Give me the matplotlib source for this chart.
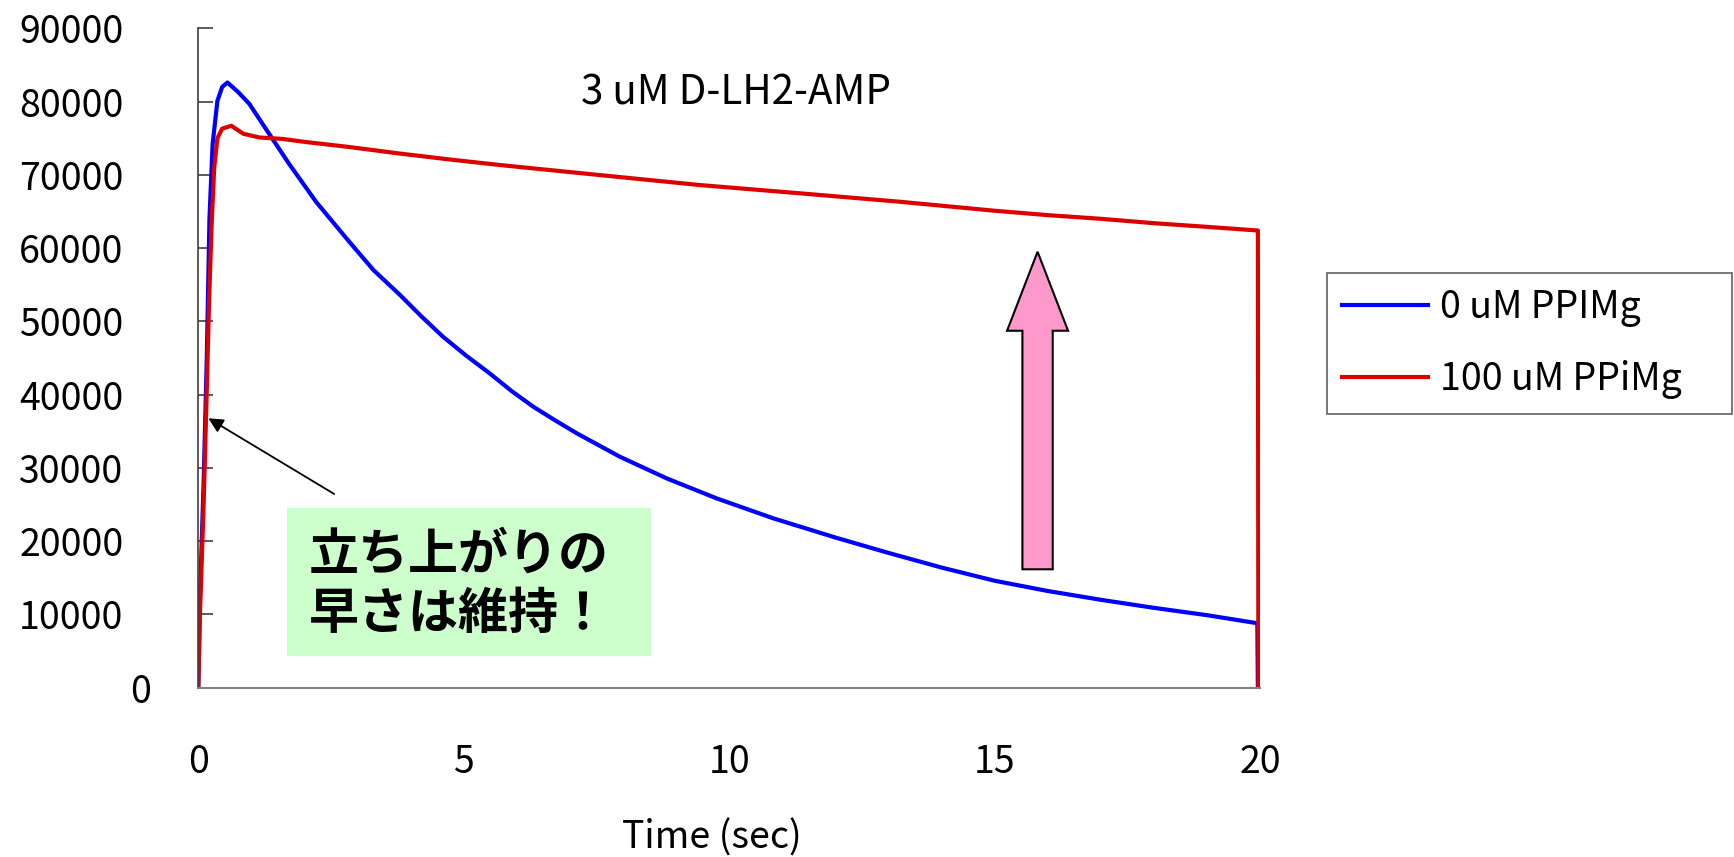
import matplotlib
matplotlib.use("Agg")
import matplotlib.pyplot as plt
import matplotlib.transforms as mtransforms
from matplotlib.patches import FancyArrow, Rectangle

plt.rcParams['font.family'] = ['Noto Sans CJK JP', 'DejaVu Sans']

# luminescence traces
t_blue = [0, 0.03, 0.1, 0.16, 0.21, 0.27, 0.36, 0.45, 0.55, 0.75, 0.96, 1.27, 1.71, 2.22,
          2.84, 3.3, 3.8, 4.2, 4.61, 5.05, 5.49, 5.9, 6.31, 6.72, 7.13, 7.94, 8.82, 9.76,
          10.83, 12, 13, 14, 15, 16, 17, 18, 19, 19.95, 19.96]
v_blue = [0, 12000, 28000, 45000, 64000, 74200, 80100, 82000, 82600, 81300, 79700, 76300,
          71500, 66300, 60900, 57000, 53600, 50700, 47900, 45300, 42900, 40500, 38350,
          36500, 34720, 31530, 28580, 25850, 23120, 20500, 18400, 16400, 14600, 13200,
          12000, 10900, 9900, 8800, 0]

t_red = [0, 0.03, 0.1, 0.15, 0.2, 0.25, 0.3, 0.36, 0.45, 0.62, 0.85, 1.15, 1.59, 2.0,
         2.84, 3.8, 4.73, 5.68, 7.56, 9.44, 11.33, 13.21, 15, 16, 17, 18, 19, 19.96, 19.97]
v_red = [0, 10000, 25000, 38000, 52000, 63000, 71000, 75000, 76300, 76700, 75600, 75100,
         74900, 74500, 73800, 72900, 72100, 71340, 69970, 68610, 67480, 66330, 65100,
         64500, 64000, 63400, 62900, 62400, 0]

series_labels = ['0 uM PPIMg', '100 uM PPiMg']
x_ticks = [0, 5, 10, 15, 20]
y_ticks = [0, 10000, 20000, 30000, 40000, 50000, 60000, 70000, 80000, 90000]

fig = plt.figure(figsize=(17.34, 8.57), dpi=100)
ax = fig.add_axes([0.11436, 0.19755, 0.61228, 0.76943])

l1, = ax.plot(t_blue, v_blue, color='#0000FF', lw=3.0, solid_joinstyle='round')
l2, = ax.plot(t_red, v_red, color='#DD0000', lw=3.0, solid_joinstyle='round')

ax.set_xlim(0, 20)
ax.set_ylim(0, 90000)
ax.set_xticks(x_ticks)
ax.set_yticks(y_ticks)
ax.set_xticklabels([str(v) for v in x_ticks])
ax.set_yticklabels([str(v) for v in y_ticks])

for s in ['top', 'right']:
    ax.spines[s].set_visible(False)
ax.spines['left'].set_color('#404040')
ax.spines['left'].set_linewidth(1.2)
ax.spines['bottom'].set_color('#808080')
ax.spines['bottom'].set_linewidth(1.5)

ax.tick_params(axis='y', direction='in', length=10.8, width=1.2, color='#404040',
               pad=54, labelsize=27)
ax.tick_params(axis='x', length=0, pad=40, labelsize=27)

# the "0" label sits further right than the others in the original
zero_lab = ax.get_yticklabels()[0]
zero_lab.set_transform(zero_lab.get_transform() +
                       mtransforms.ScaledTranslation(0.28, 0, fig.dpi_scale_trans))

ax.set_xlabel('Time (sec)', fontsize=27, va='center')
ax.xaxis.set_label_coords(0.484, -0.228)

fig.text(0.4245, 0.8915, '3 uM D-LH2-AMP', fontsize=29, ha='center', va='center')

# pink block arrow
ax.add_patch(FancyArrow(15.81, 16160, 0, 43340, width=0.571, head_width=1.149,
                        head_length=10780, length_includes_head=True,
                        fc='#FF99CC', ec='black', lw=1.5))

# black pointer to the rising edge
ax.annotate('', xy=(0.19, 36770), xytext=(2.56, 26440),
            arrowprops=dict(arrowstyle='-|>', color='black', lw=1.3,
                            mutation_scale=22, shrinkA=0, shrinkB=0))

# green note box
fig.add_artist(Rectangle((0.1653, 0.2349), 0.2099, 0.172, transform=fig.transFigure,
                         fc='#CCFFCC', ec='none'))
fig.text(0.1782, 0.317, '立ち上がりの\n早さは維持！', fontsize=36, fontweight='bold',
         ha='left', va='center', linespacing=1.2)

leg = fig.legend([l1, l2], series_labels, loc='upper left',
                 bbox_to_anchor=(0.7653, 1 - 273 / 857, 0.2336, 0), mode='expand',
                 fontsize=27, handlelength=2.3, handletextpad=0.3, borderpad=0.4,
                 labelspacing=0.88, borderaxespad=0, fancybox=False, framealpha=1)
leg.get_frame().set_edgecolor('#606060')
leg.get_frame().set_linewidth(1.2)

fig.savefig('out.png', dpi=100)
